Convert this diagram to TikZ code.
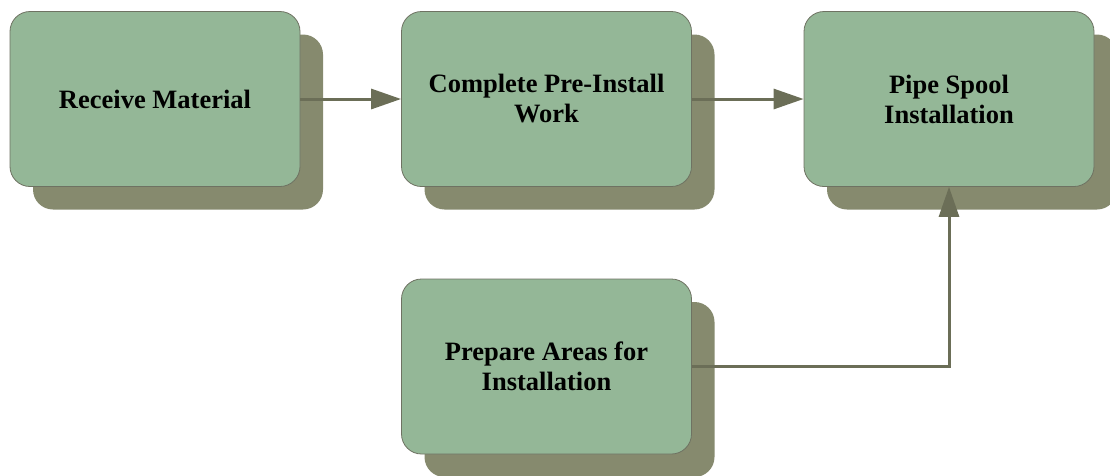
\documentclass[tikz,border=0pt]{standalone}
\usepackage{fontspec}
\setmainfont{Liberation Serif}
\usetikzlibrary{arrows.meta,shadows}
\definecolor{boxfill}{HTML}{94B797}
\definecolor{shadowc}{HTML}{868A6E}
\definecolor{linec}{HTML}{6B6E57}
\definecolor{borderc}{HTML}{6E7262}
\begin{document}
\begin{tikzpicture}[x=1pt,y=-1pt,
  procbox/.style={draw=borderc, line width=0.8pt, fill=boxfill,
    rounded corners=20pt, minimum width=290pt, minimum height=175pt,
    inner sep=0pt, align=center, text=black,
    font=\bfseries\fontsize{26.5}{30}\selectfont,
    general shadow={fill=shadowc, draw=none, shadow xshift=23pt, shadow yshift=-23pt}},
  flow/.style={draw=linec, line width=3pt, -{Triangle[length=30pt,width=20pt]}}]
\useasboundingbox (0,0) rectangle (1110,475);
\node[procbox] (b1) at (155,99) {Receive Material};
\node[procbox] (b2) at (546.5,99) {Complete Pre-Install\\Work};
\node[procbox] (b3) at (949,99) {Pipe Spool\\Installation};
\node[procbox] (b4) at (546.5,366.5) {Prepare Areas for\\Installation};
\draw[flow] (b1) -- (b2);
\draw[flow] (b2) -- (b3);
\draw[flow] (b4.east) -| (b3.south);
\end{tikzpicture}
\end{document}
